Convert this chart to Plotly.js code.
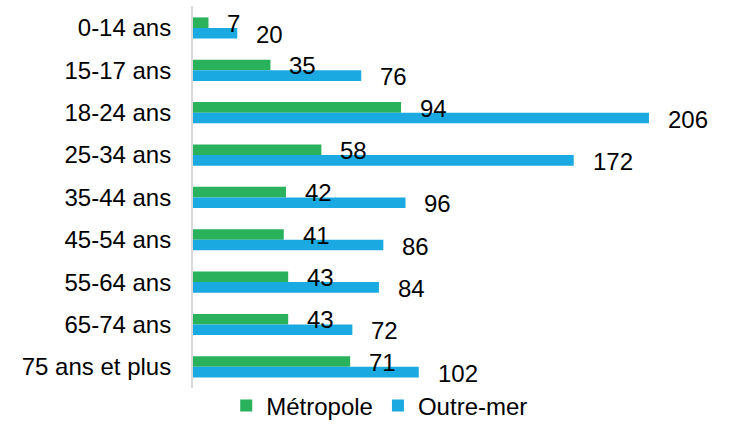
<!DOCTYPE html>
<html>
<head>
<meta charset="utf-8">
<script src="https://cdn.plot.ly/plotly-3.0.1.min.js"></script>
<style>html,body{margin:0;padding:0;background:#fff;}#chart{width:748px;height:431px;}</style>
</head>
<body>
<div id="chart"></div>
<script>
const categories = ["0-14 ans", "15-17 ans", "18-24 ans", "25-34 ans", "35-44 ans", "45-54 ans", "55-64 ans", "65-74 ans", "75 ans et plus"];
const metropole = [7, 35, 94, 58, 42, 41, 43, 43, 71];
const outremer = [20, 76, 206, 172, 96, 86, 84, 72, 102];
const seriesNames = ["Métropole", "Outre-mer"];

const GREEN = "#29B15C";
const BLUE = "#1BA9E1";
const FONT = "Liberation Sans, Arial, sans-serif";

const traces = [
  {type: "bar", orientation: "h", name: seriesNames[0], y: categories, x: metropole, marker: {color: GREEN}, hoverinfo: "x+y"},
  {type: "bar", orientation: "h", name: seriesNames[1], y: categories, x: outremer, marker: {color: BLUE}, hoverinfo: "x+y"}
];

const annotations = [];
categories.forEach((c, i) => {
  annotations.push({x: metropole[i], y: c, xref: "x", yref: "y", text: String(metropole[i]), showarrow: false,
    xanchor: "left", yanchor: "middle", xshift: 17, yshift: 4.5, font: {family: FONT, size: 24, color: "#000"}});
  annotations.push({x: outremer[i], y: c, xref: "x", yref: "y", text: String(outremer[i]), showarrow: false,
    xanchor: "left", yanchor: "middle", xshift: 17, yshift: -6.5, font: {family: FONT, size: 24, color: "#000"}});
});

const layout = {
  width: 748, height: 431,
  margin: {l: 193, r: 20, t: 6, b: 43, pad: 0, autoexpand: false},
  paper_bgcolor: "#fff", plot_bgcolor: "#fff",
  font: {family: FONT, size: 24, color: "#000"},
  barmode: "group", bargap: 0.5, bargroupgap: 0,
  xaxis: {range: [0, 241.7], showgrid: false, zeroline: false, showticklabels: false, showline: false, ticks: "", fixedrange: true},
  yaxis: {type: "category", autorange: "reversed", showgrid: false, zeroline: false, showline: true, linecolor: "#d9d9d9", linewidth: 2,
    ticks: "", ticklabelstandoff: 15, tickfont: {family: FONT, size: 24, color: "#000"}, fixedrange: true},
  showlegend: true,
  legend: {orientation: "h", x: 0.349, xanchor: "center", y: 0.012, yanchor: "top", font: {family: FONT, size: 24, color: "#000"},
    bgcolor: "rgba(0,0,0,0)", traceorder: "normal"},
  annotations: annotations
};

Plotly.newPlot("chart", traces, layout, {displayModeBar: false, staticPlot: true});
</script>
</body>
</html>
